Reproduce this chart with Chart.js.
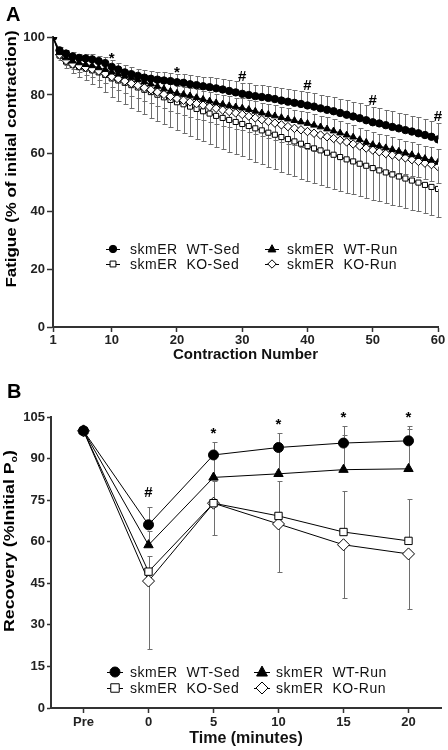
<!DOCTYPE html>
<html><head><meta charset="utf-8">
<script src="https://cdn.jsdelivr.net/npm/chart.js@4/dist/chart.umd.min.js"></script>
<style>
html,body{margin:0;padding:0;background:#fff;}
body{width:448px;height:750px;overflow:hidden;position:relative;}
canvas{position:absolute;left:0;display:block;}
</style></head>
<body>
<canvas id="cA" width="448" height="369" style="top:0"></canvas>
<canvas id="cB" width="448" height="385" style="top:365px"></canvas>
<script>
// ---------------- Panel A data ----------------
const contractionNumbers = [1,2,3,4,5,6,7,8,9,10,11,12,13,14,15,16,17,18,19,20,21,22,23,24,25,26,27,28,29,30,31,32,33,34,35,36,37,38,39,40,41,42,43,44,45,46,47,48,49,50,51,52,53,54,55,56,57,58,59,60];
const fatigueXTicks = [1,10,20,30,40,50,60];
const fatigueWTSed = [100,95.4,94.3,93.3,92.8,92.6,92.3,91.7,91.0,89.7,88.8,87.8,87.2,86.6,86.0,85.6,85.3,85.0,84.8,84.4,84.2,83.7,83.4,83.0,82.7,82.3,81.9,81.4,80.9,80.4,80.0,79.6,79.3,79.0,78.6,78.1,77.7,77.3,76.9,76.4,76.0,75.4,74.9,74.4,73.8,73.2,72.6,72.0,71.3,70.6,70.2,69.6,69.0,68.5,67.9,67.4,66.8,66.2,65.6,64.7];
const fatigueWTSedErr = [0,1.0,1.2,1.4,1.5,1.6,1.8,1.9,2.0,2.2,2.3,2.4,2.5,2.5,2.6,2.7,2.8,2.8,2.9,3.0,3.1,3.2,3.3,3.3,3.4,3.5,3.6,3.7,3.8,3.9,4.0,4.0,4.1,4.2,4.2,4.3,4.4,4.4,4.5,4.6,4.6,4.7,4.8,4.8,4.9,5.0,5.0,5.1,5.2,5.2,5.3,5.3,5.4,5.4,5.5,5.5,5.5,5.6,5.6,5.6];
const fatigueKOSed = [100,93.6,91.5,90.3,89.6,89.1,88.5,87.8,86.9,85.7,85.0,84.2,83.4,82.6,81.8,81.0,80.1,79.2,78.3,77.5,76.8,76.0,75.2,74.4,73.6,72.8,72.1,71.4,70.7,70.0,69.3,68.5,67.8,67.0,66.3,65.5,64.8,64.0,63.2,62.4,61.6,60.9,60.1,59.4,58.6,57.8,57.1,56.3,55.6,54.8,54.0,53.3,52.6,51.9,51.2,50.5,49.8,49.0,48.3,47.6];
const fatigueKOSedErr = [0,1.5,2.2,2.8,3.4,4.0,4.6,5.2,5.8,6.4,7.0,7.4,7.8,8.2,8.5,8.8,9.0,9.2,9.4,9.6,9.8,10.0,10.2,10.4,10.6,10.7,10.8,11.0,11.1,11.2,11.4,11.5,11.6,11.7,11.8,11.9,12.0,12.0,12.0,12.0,12.0,11.9,11.8,11.7,11.6,11.5,11.3,11.2,11.0,10.9,10.7,10.6,10.4,10.3,10.1,10.0,9.9,9.8,9.7,9.6];
const fatigueWTRun = [100,94.6,92.8,91.7,91.1,90.5,90.1,89.4,88.8,87.9,87.2,86.5,85.9,85.3,84.5,83.8,83.0,82.1,81.3,80.6,80.2,79.7,79.1,78.5,77.9,77.3,76.8,76.3,75.9,75.5,75.0,74.4,73.8,73.3,72.8,72.2,71.7,71.2,70.7,70.2,69.6,69.0,68.3,67.6,66.9,66.2,65.5,64.6,63.7,62.9,62.4,61.8,61.2,60.6,60.0,59.4,58.8,58.1,57.5,56.8];
const fatigueWTRunErr = [0,0.9,1.1,1.2,1.3,1.4,1.5,1.6,1.7,1.8,1.9,2.0,2.1,2.1,2.2,2.3,2.4,2.5,2.5,2.6,2.7,2.8,2.8,2.9,3.0,3.0,3.1,3.2,3.2,3.3,3.4,3.4,3.5,3.5,3.6,3.6,3.7,3.7,3.8,3.8,3.9,3.9,4.0,4.0,4.0,4.1,4.1,4.1,4.2,4.2,4.2,4.3,4.3,4.3,4.3,4.4,4.4,4.4,4.4,4.5];
const fatigueKORun = [100,93.9,91.9,90.7,90.0,89.5,88.9,88.3,87.4,86.3,85.6,84.8,84.0,83.3,82.5,81.8,81.0,80.2,79.5,78.8,78.2,77.6,77.0,76.5,75.9,75.4,74.8,74.3,73.8,73.3,72.7,72.1,71.5,70.9,70.3,69.7,69.1,68.5,68.0,67.4,66.8,66.2,65.6,65.0,64.4,63.8,63.1,62.4,61.7,61.0,60.4,59.8,59.3,58.8,58.3,57.7,57.1,56.5,56.0,55.3];
const fatigueKORunErr = [0,1.1,1.5,1.9,2.2,2.5,2.8,3.1,3.4,3.7,3.9,4.1,4.3,4.4,4.5,4.6,4.7,4.8,4.9,5.0,5.1,5.1,5.2,5.2,5.3,5.3,5.4,5.4,5.5,5.5,5.6,5.6,5.7,5.7,5.8,5.8,5.9,5.9,6.0,6.0,6.0,6.0,6.0,5.9,5.9,5.9,5.8,5.8,5.8,5.7,5.7,5.7,5.6,5.6,5.6,5.5,5.5,5.5,5.5,5.5];
const fatigueSigAt = [10,20,30,40,50,60];
const fatigueSigMark = ['*','*','#','#','#','#'];

// ---------------- Panel B data ----------------
const recoveryTimes = ['Pre','0','5','10','15','20'];
const recoveryWTSed = [100,66.1,91.3,94.0,95.6,96.4];
const recoveryWTSedErrUp = [0,6.3,4.8,5.3,6.2,5.5];
const recoveryWTRun = [100,58.8,83.2,84.5,86.0,86.3];
const recoveryWTRunErrUp = [0,5.0,9.0,10.0,12.6,14.4];
const recoveryKOSed = [100,49.2,73.9,69.3,63.5,60.3];
const recoveryKOSedErrUp = [0,5.8,8.0,12.7,14.8,15.2];
const recoveryKORun = [100,45.8,73.9,66.4,58.9,55.6];
const recoveryKORunErrDown = [0,24.5,11.4,17.4,19.3,19.9];
const recoverySigAt = ['0','5','10','15','20'];
const recoverySigMark = ['#','*','*','*','*'];

const seriesNames = ['skmER  WT-Sed','skmER  KO-Sed','skmER  WT-Run','skmER  KO-Run'];

// ---------------- helpers ----------------
const FONT = "'Liberation Sans', Arial, Helvetica, sans-serif";
Chart.defaults.font.family = FONT;
Chart.defaults.color = '#222';

function drawMarker(ctx, style, r, x, y, fill) {
  ctx.save();
  ctx.fillStyle = fill; ctx.strokeStyle = '#000'; ctx.lineWidth = 1;
  ctx.beginPath();
  if (style === 'circle') { ctx.arc(x, y, r, 0, Math.PI*2); }
  else if (style === 'rect') { const s = r*Math.SQRT1_2*1.15; ctx.rect(x-s, y-s, 2*s, 2*s); }
  else if (style === 'triangle') { ctx.moveTo(x, y-r*1.1); ctx.lineTo(x+r*1.0, y+r*0.75); ctx.lineTo(x-r*1.0, y+r*0.75); ctx.closePath(); }
  else if (style === 'rectRot') { ctx.moveTo(x, y-r); ctx.lineTo(x+r, y); ctx.lineTo(x, y+r); ctx.lineTo(x-r, y); ctx.closePath(); }
  ctx.fill(); ctx.stroke();
  ctx.restore();
}

const errorBars = {
  id: 'errorBars',
  beforeDatasetsDraw(chart, args, opts) {
    const ctx = chart.ctx, ys = chart.scales.y;
    ctx.save();
    ctx.strokeStyle = opts.color; ctx.lineWidth = opts.width;
    chart.data.datasets.forEach((ds, di) => {
      const meta = chart.getDatasetMeta(di);
      meta.data.forEach((pt, i) => {
        const raw = ds.data[i];
        const v = (typeof raw === 'object') ? raw.y : raw;
        [['errUp', 1], ['errDown', -1]].forEach(([k, s]) => {
          const e = ds[k] ? ds[k][i] : 0;
          if (!e) return;
          const px = Math.round(pt.x) + 0.5;
          const y0 = ys.getPixelForValue(v), y1 = Math.round(ys.getPixelForValue(v + s*e)) + 0.5;
          ctx.beginPath();
          ctx.moveTo(px, y0); ctx.lineTo(px, y1);
          ctx.moveTo(px - opts.cap, y1); ctx.lineTo(px + opts.cap + 1, y1);
          ctx.stroke();
        });
      });
    });
    ctx.restore();
  }
};

const extras = {
  id: 'extras',
  afterDraw(chart, args, o) {
    const ctx = chart.ctx;
    const ys = chart.scales.y;
    ctx.save();
    // panel letter
    ctx.fillStyle = '#000';
    ctx.font = 'bold 20px ' + FONT;
    ctx.textBaseline = 'alphabetic'; ctx.textAlign = 'left';
    ctx.fillText(o.letter, o.letterX, o.letterY);
    // rotated y title with optional subscript
    ctx.save();
    ctx.translate(o.yTitleX, o.yTitleY);
    ctx.rotate(-Math.PI/2);
    ctx.font = 'bold ' + o.yTitleSize + 'px ' + FONT;
    ctx.textBaseline = 'middle';
    const main = o.yTitle, sub = o.yTitleSub || '', tail = o.yTitleTail || '';
    const subFont = 'bold ' + Math.round(o.yTitleSize*0.62) + 'px ' + FONT;
    let w = ctx.measureText(main).width;
    ctx.font = subFont; const ws = sub ? ctx.measureText(sub).width : 0;
    ctx.font = 'bold ' + o.yTitleSize + 'px ' + FONT;
    const wt = tail ? ctx.measureText(tail).width : 0;
    const total = w + ws + wt;
    const sx = o.yTitleLen / total;
    ctx.scale(sx, 1);
    let cx = -total/2;
    ctx.textAlign = 'left';
    ctx.fillText(main, cx, 0); cx += w;
    if (sub) { ctx.font = subFont; ctx.fillText(sub, cx, o.yTitleSize*0.32); cx += ws; ctx.font = 'bold ' + o.yTitleSize + 'px ' + FONT; }
    if (tail) ctx.fillText(tail, cx, 0);
    ctx.restore();
    // significance marks
    ctx.font = 'bold ' + o.sigSize + 'px ' + FONT;
    ctx.textAlign = 'center'; ctx.textBaseline = 'alphabetic';
    o.sigAt.forEach((xv, k) => {
      let top = Infinity, px = null;
      chart.data.datasets.forEach((ds, di) => {
        const meta = chart.getDatasetMeta(di);
        meta.data.forEach((pt, i) => {
          const raw = ds.data[i];
          const xr = (typeof raw === 'object') ? raw.x : chart.data.labels[i];
          if (String(xr) !== String(xv)) return;
          const v = (typeof raw === 'object') ? raw.y : raw;
          const up = ds.errUp ? ds.errUp[i] : 0;
          const yp = ys.getPixelForValue(v + (up || 0));
          top = Math.min(top, yp, pt.y - pt.options.radius);
          px = pt.x;
        });
      });
      const m = o.sigMark[k];
      ctx.fillText(m, px, top - (m === '*' ? o.sigGapStar : o.sigGapHash));
    });
    // legend
    ctx.font = o.legendSize + 'px ' + FONT;
    if ('letterSpacing' in ctx) ctx.letterSpacing = o.legendSpacing + 'px';
    ctx.textAlign = 'left'; ctx.textBaseline = 'middle'; ctx.fillStyle = '#111';
    chart.data.datasets.forEach((ds, i) => {
      const col = Math.floor(i/2), row = i % 2;
      const mx = o.legendCols[col], my = o.legendRows[row];
      ctx.strokeStyle = '#000'; ctx.lineWidth = 1;
      ctx.beginPath(); ctx.moveTo(mx - o.legendStub, my + 0.5); ctx.lineTo(mx + o.legendStub, my + 0.5); ctx.stroke();
      drawMarker(ctx, ds.pointStyle, ds.pointRadius, mx, my, ds.pointBackgroundColor);
      ctx.fillStyle = '#111';
      ctx.fillText(ds.label, o.legendTextX[col], my + 1);
    });
    ctx.restore();
  }
};

function mkDatasets(vals, errs, r) {
  const styles = [
    {pointStyle:'circle', fill:'#000', rad:r.c},
    {pointStyle:'rect', fill:'#fff', rad:r.s},
    {pointStyle:'triangle', fill:'#000', rad:r.t},
    {pointStyle:'rectRot', fill:'#fff', rad:r.d}
  ];
  return vals.map((d, i) => Object.assign({
    label: seriesNames[i],
    data: d,
    borderColor: '#000', borderWidth: 1,
    pointStyle: styles[i].pointStyle,
    pointRadius: styles[i].rad,
    pointBackgroundColor: styles[i].fill,
    pointBorderColor: '#000', pointBorderWidth: 1,
    tension: 0, fill: false
  }, errs[i]));
}

// ---------------- Chart A ----------------
const xyA = arr => contractionNumbers.map((c, i) => ({x: c, y: arr[i]}));
const dsA = mkDatasets(
  [xyA(fatigueWTSed), xyA(fatigueKOSed), xyA(fatigueWTRun), xyA(fatigueKORun)],
  [{errUp: fatigueWTSedErr}, {errDown: fatigueKOSedErr}, {errUp: fatigueWTRunErr}, {errDown: fatigueKORunErr}],
  {c:3.7, s:3.6, t:3.9, d:4.2}
);
dsA.forEach((d, i) => d.order = [1, 4, 2, 3][i]);

new Chart(document.getElementById('cA'), {
  type: 'line',
  data: {datasets: dsA},
  plugins: [errorBars, extras],
  options: {
    responsive: false, animation: false, events: [],
    layout: {padding: {left: 0, right: 10, top: 37, bottom: 0}},
    plugins: {
      legend: {display: false}, tooltip: {enabled: false},
      errorBars: {color: '#6e6e6e', width: 1, cap: 2},
      extras: {
        letter: 'A', letterX: 6, letterY: 21,
        yTitle: 'Fatigue (% of initial contraction)', yTitleX: 12, yTitleY: 159, yTitleSize: 15, yTitleLen: 257,
        sigAt: fatigueSigAt, sigMark: fatigueSigMark, sigSize: 15, sigGapStar: -3, sigGapHash: 2,
        legendSize: 14, legendSpacing: 0.5, legendCols: [113, 272], legendTextX: [130, 287], legendRows: [249, 264], legendStub: 7
      }
    },
    scales: {
      x: {
        type: 'linear', min: 1, max: 60, position: 'bottom',
        afterBuildTicks: s => { s.ticks = fatigueXTicks.map(v => ({value: v})); },
        afterFit: s => { s.height = 42; },
        ticks: {autoSkip: false, maxRotation: 0, font: {size: 13, weight: 'bold'}, color: '#222', padding: 1},
        grid: {drawOnChartArea: false, drawTicks: true, tickLength: 5, tickColor: '#333', tickWidth: 1.5},
        border: {color: '#333', width: 2},
        title: {display: true, text: 'Contraction Number', font: {size: 15, weight: 'bold'}, color: '#111', padding: {top: 0, bottom: 5}}
      },
      y: {
        min: 0, max: 100,
        afterFit: s => { s.width = 53; },
        ticks: {stepSize: 20, font: {size: 13, weight: 'bold'}, color: '#222', padding: 2},
        grid: {drawOnChartArea: false, drawTicks: true, tickLength: 6, tickColor: '#333', tickWidth: 1.5},
        border: {color: '#333', width: 2}
      }
    }
  }
});

// ---------------- Chart B ----------------
const dsB = mkDatasets(
  [recoveryWTSed, recoveryKOSed, recoveryWTRun, recoveryKORun],
  [{errUp: recoveryWTSedErrUp}, {errUp: recoveryKOSedErrUp}, {errUp: recoveryWTRunErrUp}, {errDown: recoveryKORunErrDown}],
  {c:5, s:5.2, t:5.4, d:6}
);

new Chart(document.getElementById('cB'), {
  type: 'line',
  data: {labels: recoveryTimes, datasets: dsB},
  plugins: [errorBars, extras],
  options: {
    responsive: false, animation: false, events: [],
    layout: {padding: {left: 0, right: 2, top: 52, bottom: 0}},
    plugins: {
      legend: {display: false}, tooltip: {enabled: false},
      errorBars: {color: '#6e6e6e', width: 1, cap: 2},
      extras: {
        letter: 'B', letterX: 7, letterY: 33,
        yTitle: 'Recovery (%Initial P', yTitleSub: 'o', yTitleTail: ')', yTitleX: 10, yTitleY: 176, yTitleSize: 15, yTitleLen: 182,
        sigAt: recoverySigAt, sigMark: recoverySigMark, sigSize: 15, sigGapStar: 4, sigGapHash: 10,
        legendSize: 14, legendSpacing: 0.5, legendCols: [115, 262], legendTextX: [130, 276], legendRows: [307, 323], legendStub: 8
      }
    },
    scales: {
      x: {
        type: 'category', offset: true,
        afterFit: s => { s.height = 42; },
        ticks: {font: {size: 13, weight: 'bold'}, color: '#222', padding: 2},
        grid: {drawOnChartArea: false, drawTicks: true, tickLength: 5, tickColor: '#333', tickWidth: 1.5},
        border: {color: '#333', width: 2},
        title: {display: true, text: 'Time (minutes)', font: {size: 16, weight: 'bold'}, color: '#111', padding: {top: 0, bottom: 2}}
      },
      y: {
        min: 0, max: 105,
        afterFit: s => { s.width = 51; },
        ticks: {stepSize: 15, font: {size: 13, weight: 'bold'}, color: '#222', padding: 2},
        grid: {drawOnChartArea: false, drawTicks: true, tickLength: 4, tickColor: '#333', tickWidth: 1.5},
        border: {color: '#333', width: 2}
      }
    }
  }
});
</script>
</body></html>
